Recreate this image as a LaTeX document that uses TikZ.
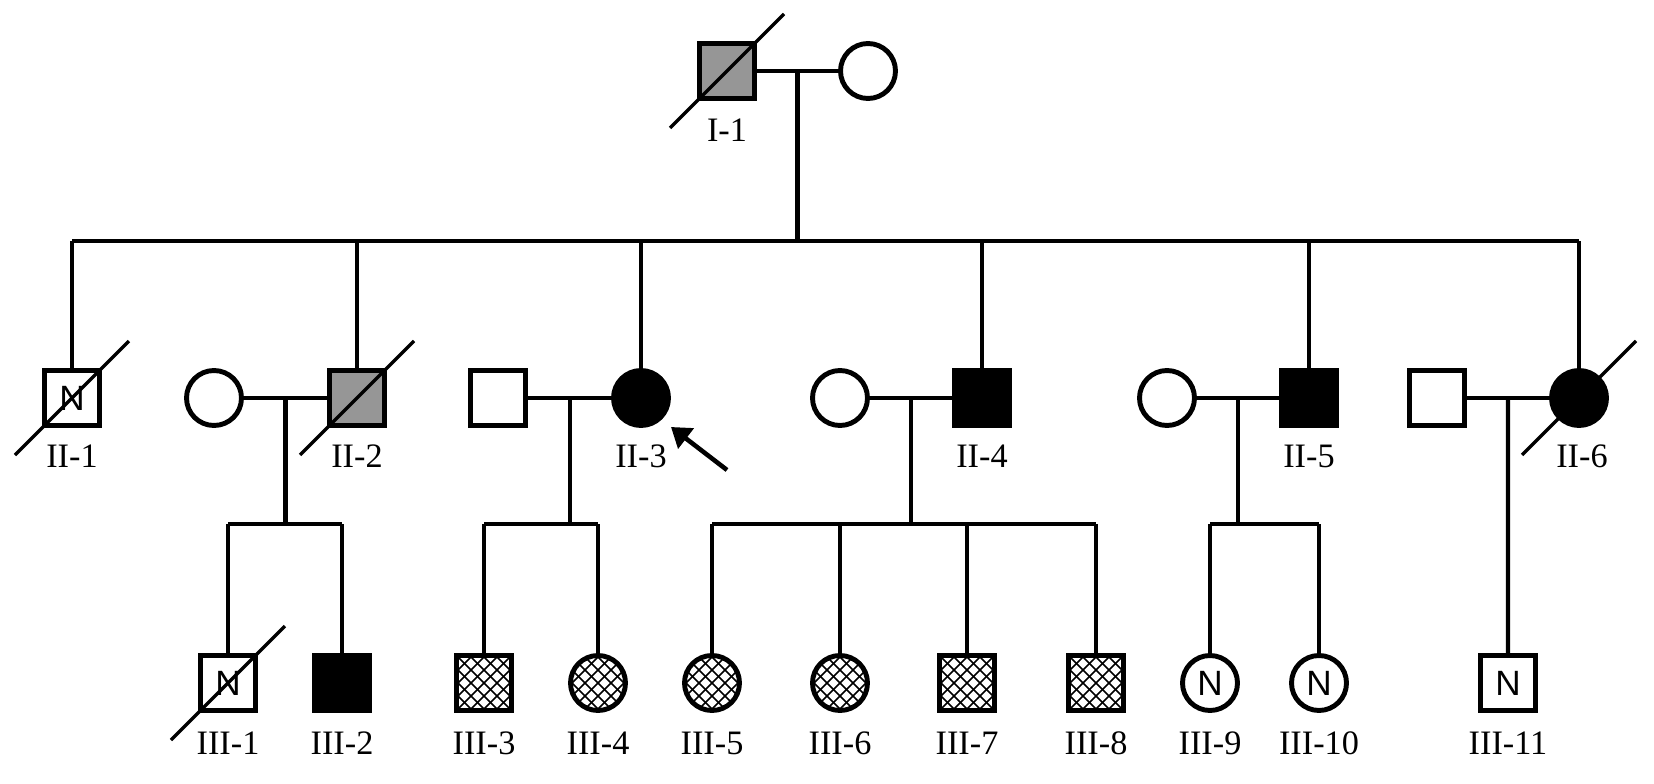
\documentclass[tikz,border=0pt]{standalone}
\usepackage{fontspec}
\setmainfont{Liberation Serif}
\newfontfamily\nfont{Liberation Sans}
\usetikzlibrary{arrows.meta, calc}
\definecolor{carriergray}{RGB}{150,150,150}

% diagonal slash for a deceased person
\newcommand{\deadmark}[1]{\draw[slash] ([shift={(-57,57)}]#1.center) -- ([shift={(57,-57)}]#1.center);}

\begin{document}
\begin{tikzpicture}[x=0.02cm, y=-0.02cm,
    male/.style={rectangle, draw, line width=2.8pt, minimum size=1.1cm, inner sep=0pt, fill=white},
    female/.style={circle, draw, line width=2.8pt, minimum size=1.1cm, inner sep=0pt, fill=white},
    affected/.style={fill=black},
    carrier/.style={fill=carriergray},
    hatched/.style={path picture={
        \foreach \k in {-7,...,7}{
            \draw[line width=0.9pt] ([xshift=\k*0.26cm-0.9cm, yshift=-0.9cm]path picture bounding box.center) -- ++(1.8cm,1.8cm);
            \draw[line width=0.9pt] ([xshift=\k*0.26cm-0.9cm, yshift=0.9cm]path picture bounding box.center) -- ++(1.8cm,-1.8cm);
        }}},
    normal/.style={font=\nfont\fontsize{20}{20}\selectfont},
    lbl/.style={font=\fontsize{19.5}{22}\selectfont, inner sep=0pt},
    line/.style={line width=2.3pt},
    slash/.style={line width=1.9pt},
    pointer/.style={line width=2.6pt, -{Triangle[length=0.38cm, width=0.5cm]}}
]
\useasboundingbox (0,0) rectangle (1654,784);

% generation I
\node[male, carrier] (I1) at (727,71) {};
\node[female] (I1w) at (868,71) {};

% generation II
\node[male, normal] (II1) at (72,398) {N};
\node[female] (II2w) at (214,398) {};
\node[male, carrier] (II2) at (357,398) {};
\node[male] (II3h) at (498,398) {};
\node[female, affected] (II3) at (641,398) {};
\node[female] (II4w) at (840,398) {};
\node[male, affected] (II4) at (982,398) {};
\node[female] (II5w) at (1167,398) {};
\node[male, affected] (II5) at (1309,398) {};
\node[male] (II6h) at (1437,398) {};
\node[female, affected] (II6) at (1579,398) {};

% generation III
\node[male, normal] (III1) at (228,683) {N};
\node[male, affected] (III2) at (342,683) {};
\node[male, hatched] (III3) at (484,683) {};
\node[female, hatched] (III4) at (598,683) {};
\node[female, hatched] (III5) at (712,683) {};
\node[female, hatched] (III6) at (840,683) {};
\node[male, hatched] (III7) at (967,683) {};
\node[male, hatched] (III8) at (1096,683) {};
\node[female, normal] (III9) at (1210,683) {N};
\node[female, normal] (III10) at (1319,683) {N};
\node[male, normal] (III11) at (1508,683) {N};

% labels
\node[lbl] (lI1) at (727,130) {I-1};
\node[lbl] (lII1) at (72,456) {II-1};
\node[lbl] (lII2) at (357,456) {II-2};
\node[lbl] (lII3) at (641,456) {II-3};
\node[lbl] (lII4) at (982,456) {II-4};
\node[lbl] (lII5) at (1309,456) {II-5};
\node[lbl] (lII6) at (1582,456) {II-6};
\foreach \n/\x in {1/228,2/342,3/484,4/598,5/712,6/840,7/967,8/1096,9/1210,10/1319,11/1508}
    \node[lbl] (lIII\n) at (\x,743) {III-\n};

% couples
\coordinate (m1) at ($(I1)!0.5!(I1w)$);
\coordinate (m2) at ($(II2w)!0.5!(II2)$);
\coordinate (m3) at (570,398);
\coordinate (m4) at ($(II4w)!0.5!(II4)$);
\coordinate (m5) at ($(II5w)!0.5!(II5)$);
\coordinate (m6) at ($(II6h)!0.5!(II6)$);
\coordinate (s1) at (0,241);
\coordinate (s2) at (0,524);

\draw[line] (I1) -- (I1w);
\foreach \a/\b in {II2w/II2, II3h/II3, II4w/II4, II5w/II5, II6h/II6}
    \draw[line] (\a) -- (\b);

% sibship lines
\draw[line] (m1) -- (m1 |- s1);
\draw[line] (II1 |- s1) -- (II6 |- s1);
\foreach \n in {II1,II2,II3,II4,II5,II6}
    \draw[line] (\n |- s1) -- (\n);

\foreach \m in {m2,m3,m4,m5}
    \draw[line] (\m) -- (\m |- s2);
\draw[line] (III1 |- s2) -- (III2 |- s2);
\draw[line] (III3 |- s2) -- (III4 |- s2);
\draw[line] (III5 |- s2) -- (III8 |- s2);
\draw[line] (III9 |- s2) -- (III10 |- s2);
\foreach \n in {III1,III2,III3,III4,III5,III6,III7,III8,III9,III10}
    \draw[line] (\n |- s2) -- (\n);
\draw[line] (m6) -- (III11);

% deceased
\deadmark{I1}
\deadmark{II1}
\deadmark{II2}
\deadmark{II6}
\deadmark{III1}

% proband
\coordinate (pTail) at (727,470);
\coordinate (pHead) at (671,427);
\draw[pointer] (pTail) -- (pHead);
\end{tikzpicture}
\end{document}
